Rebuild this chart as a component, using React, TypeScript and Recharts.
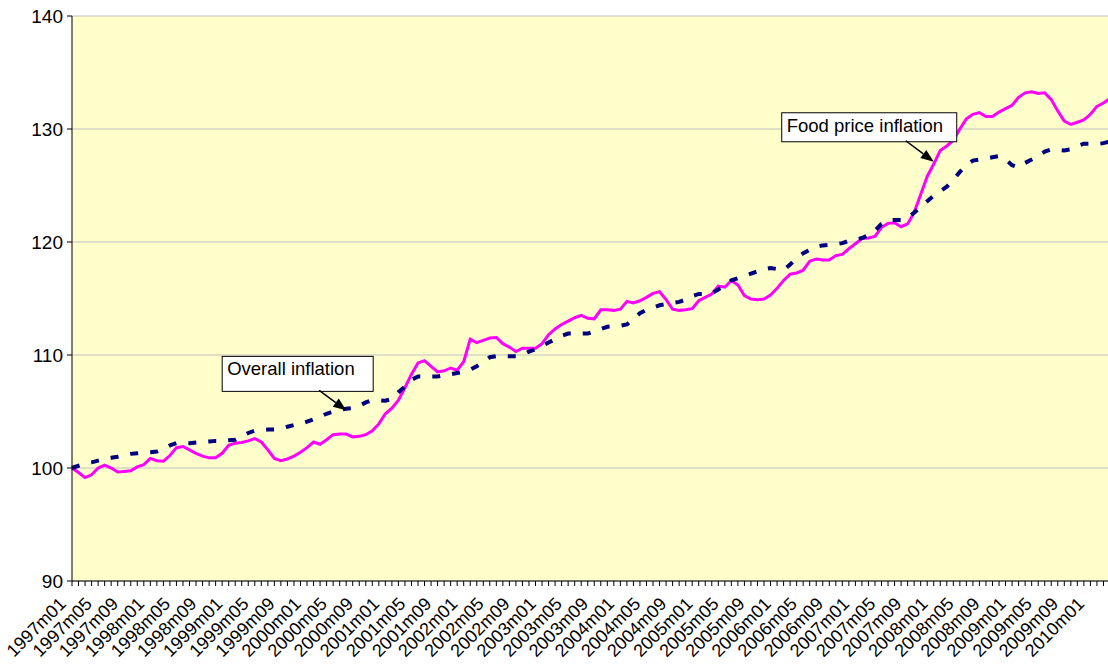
import React from 'react';
import { LineChart, Line, XAxis, YAxis, CartesianGrid, ReferenceDot } from 'recharts';

const categories: string[] = [];
for (let yr = 1997; yr <= 2010; yr++) {
  for (let m = 1; m <= 12; m++) {
    if (categories.length < 160) categories.push(`${yr}m${String(m).padStart(2, '0')}`);
  }
}

const foodPrice: number[] = [
  100.0, 99.6, 99.15, 99.4, 100.0, 100.25, 100.0, 99.65, 99.7, 99.75,
  100.1, 100.3, 100.85, 100.65, 100.6, 101.1, 101.8, 101.9, 101.6, 101.3,
  101.05, 100.9, 100.9, 101.3, 102.0, 102.2, 102.25, 102.4, 102.6, 102.3,
  101.6, 100.85, 100.65, 100.8, 101.05, 101.4, 101.8, 102.3, 102.1, 102.5,
  102.95, 103.0, 103.0, 102.75, 102.8, 102.95, 103.3, 103.9, 104.8, 105.3,
  106.0, 107.1, 108.3, 109.3, 109.5, 109.0, 108.5, 108.6, 108.85, 108.65,
  109.4, 111.4, 111.1, 111.3, 111.5, 111.55, 111.0, 110.7, 110.3, 110.6,
  110.6, 110.6, 111.0, 111.8, 112.3, 112.7, 113.0, 113.3, 113.5, 113.25,
  113.2, 114.0, 114.0, 113.95, 114.05, 114.75, 114.6, 114.8, 115.1, 115.45,
  115.6, 114.9, 114.05, 113.95, 114.0, 114.1, 114.8, 115.1, 115.4, 116.1,
  116.0, 116.6, 116.2, 115.25, 114.95, 114.9, 114.95, 115.3, 115.9, 116.6,
  117.15, 117.25, 117.5, 118.3, 118.5, 118.4, 118.4, 118.8, 118.9, 119.4,
  119.85, 120.3, 120.35, 120.5, 121.3, 121.65, 121.7, 121.35, 121.6, 122.6,
  124.2, 125.8, 126.9, 128.1, 128.5, 129.0, 130.0, 130.9, 131.3, 131.45,
  131.1, 131.1, 131.5, 131.8, 132.1, 132.8, 133.2, 133.3, 133.15, 133.2,
  132.6, 131.6, 130.7, 130.4, 130.6, 130.8, 131.3, 132.0, 132.3, 132.7,
];

const overall: number[] = [
  100.0, 100.2, 100.4, 100.5, 100.65, 100.8, 100.9, 101.0, 101.15, 101.25,
  101.3, 101.35, 101.4, 101.45, 101.7, 102.0, 102.2, 102.2, 102.2, 102.25,
  102.3, 102.35, 102.4, 102.4, 102.45, 102.5, 102.8, 103.1, 103.3, 103.35,
  103.4, 103.4, 103.5, 103.65, 103.8, 103.9, 104.1, 104.3, 104.55, 104.8,
  105.0, 105.15, 105.25, 105.3, 105.5, 105.8, 106.0, 106.0, 105.95, 106.1,
  106.7, 107.2, 107.8, 108.1, 108.1, 108.1, 108.1, 108.2, 108.3, 108.4,
  108.5, 108.7, 109.0, 109.4, 109.8, 109.9, 109.9, 109.9, 109.9, 110.0,
  110.3, 110.5, 110.8, 111.1, 111.4, 111.7, 111.9, 111.9, 111.9, 111.9,
  112.1, 112.3, 112.5, 112.55, 112.6, 112.7, 113.2, 113.7, 114.0, 114.2,
  114.4, 114.5, 114.6, 114.7, 114.9, 115.2, 115.4, 115.4, 115.45, 115.8,
  116.2, 116.6, 116.8, 117.0, 117.2, 117.4, 117.6, 117.7, 117.6, 117.5,
  118.0, 118.6, 119.0, 119.3, 119.6, 119.7, 119.75, 119.8, 119.9, 120.1,
  120.2, 120.35, 120.6, 121.0, 121.6, 121.95, 121.95, 121.95, 122.1, 122.6,
  123.1, 123.6, 124.1, 124.5, 124.9, 125.5, 126.2, 126.8, 127.2, 127.3,
  127.4, 127.5, 127.6, 127.3, 126.8, 126.6, 127.0, 127.3, 127.6, 128.0,
  128.2, 128.15, 128.1, 128.2, 128.5, 128.7, 128.7, 128.7, 128.75, 128.9,
];

const yTicks: number[] = [90, 100, 110, 120, 130, 140];

const data = categories.map((c, i) => ({ month: c, food: foodPrice[i], overall: overall[i] }));

const FONT = '"Liberation Sans", Arial, sans-serif';

const XTick = (props: any) => {
  const { x, y, payload, index } = props;
  const idx = typeof index === 'number' ? index : categories.indexOf(payload.value);
  if (idx % 4 !== 0) return null;
  const tx = x - 5;
  const ty = y + 17;
  return (
    <text
      x={tx}
      y={ty}
      transform={`rotate(-45, ${tx}, ${ty})`}
      textAnchor="end"
      fontFamily={FONT}
      fontSize={18}
      fill="#000"
    >
      {payload.value}
    </text>
  );
};

const Arrow = ({ x1, y1, x2, y2 }: { x1: number; y1: number; x2: number; y2: number }) => {
  const ang = Math.atan2(y2 - y1, x2 - x1);
  const L = 13;
  const W = 10;
  const bx = x2 - L * Math.cos(ang);
  const by = y2 - L * Math.sin(ang);
  const px = -Math.sin(ang) * (W / 2);
  const py = Math.cos(ang) * (W / 2);
  return (
    <g>
      <line x1={x1} y1={y1} x2={bx} y2={by} stroke="#000" strokeWidth={1.5} />
      <polygon points={`${x2},${y2} ${bx + px},${by + py} ${bx - px},${by - py}`} fill="#000" />
    </g>
  );
};

const makeCallout = (label: string, bx: number, by: number, bw: number, bh: number, ax: number, ay: number) =>
  (props: any) => {
    const { cx, cy } = props;
    if (cx == null || cy == null) return <g />;
    return (
      <g>
        <rect x={cx + bx} y={cy + by} width={bw} height={bh} fill="#fff" stroke="#000" strokeWidth={1} />
        <text x={cx + bx + 5} y={cy + by + 19} fontFamily={FONT} fontSize={18.5} fill="#000">
          {label}
        </text>
        <Arrow x1={cx + ax} y1={cy + ay} x2={cx} y2={cy} />
      </g>
    );
  };

export default function App() {
  return (
    <div style={{ position: 'absolute', left: 0, top: 0, width: 1108, height: 669, overflow: 'hidden', background: '#fff' }}>
      <LineChart
        width={1110}
        height={669}
        data={data}
        margin={{ top: 16, right: 0, bottom: 0, left: 0 }}
      >
        <CartesianGrid vertical={false} stroke="#C0C0C0" strokeWidth={1} fill="#FFFFCC" />
        <XAxis
          dataKey="month"
          interval={0}
          tick={<XTick />}
          tickSize={5}
          tickMargin={2}
          height={88}
          axisLine={{ stroke: '#000', strokeWidth: 1 }}
          tickLine={{ stroke: '#000', strokeWidth: 1 }}
          padding={{ left: 0, right: 0 }}
        />
        <YAxis
          domain={[90, 140]}
          ticks={yTicks}
          width={72}
          tickSize={5}
          tickMargin={4}
          axisLine={{ stroke: '#000', strokeWidth: 1 }}
          tickLine={{ stroke: '#000', strokeWidth: 1 }}
          tick={{ fontFamily: FONT, fontSize: 19, fill: '#000' }}
          allowDataOverflow
        />
        <Line
          type="linear"
          dataKey="food"
          stroke="#FF00FF"
          strokeWidth={3}
          dot={false}
          isAnimationActive={false}
        />
        <Line
          type="linear"
          dataKey="overall"
          stroke="#000080"
          strokeWidth={4}
          strokeDasharray="8 12"
          dot={false}
          isAnimationActive={false}
        />
        <ReferenceDot
          x={categories[42]}
          y={105.1}
          r={0}
          shape={makeCallout('Overall inflation', -124, -54, 151, 35, -27, -20)}
        />
        <ReferenceDot
          x={categories[132]}
          y={127.1}
          r={0}
          shape={makeCallout('Food price inflation', -152, -49, 175, 29, -28, -21)}
        />
      </LineChart>
    </div>
  );
}
